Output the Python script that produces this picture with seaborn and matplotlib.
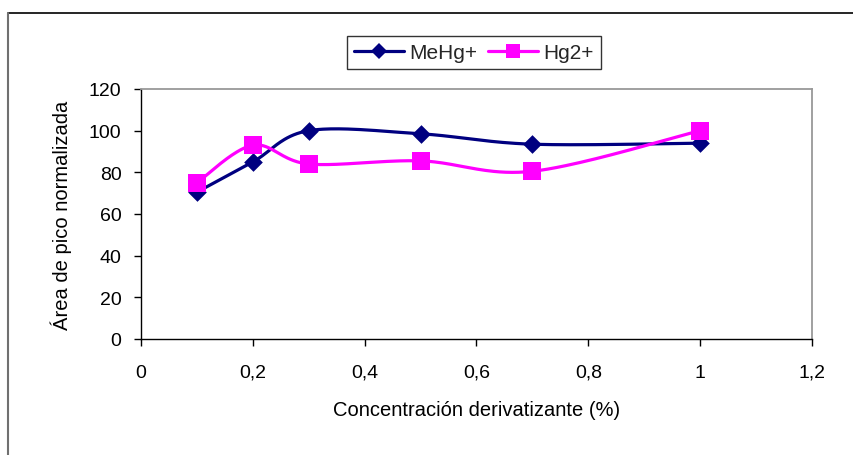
import numpy as np
import pandas as pd
import matplotlib
matplotlib.use("Agg")
import matplotlib.pyplot as plt
from matplotlib.lines import Line2D
import seaborn as sns

# Derivatizing agent concentration (%) and normalised peak areas
concentracion = [0.1, 0.2, 0.3, 0.5, 0.7, 1.0]
mehg = [70.5, 85, 100, 98.5, 93.5, 94]
hg2 = [75, 93, 84, 85.5, 80.5, 100]

series_names = ["MeHg+", "Hg2+"]
colors = {"MeHg+": "#000080", "Hg2+": "#FF00FF"}
markers = {"MeHg+": "D", "Hg2+": "s"}
msizes = {"MeHg+": 9.5, "Hg2+": 12.5}

x_ticks = [0, 0.2, 0.4, 0.6, 0.8, 1.0, 1.2]
x_ticklabels = ["0", "0,2", "0,4", "0,6", "0,8", "1", "1,2"]
y_ticks = [0, 20, 40, 60, 80, 100, 120]


def smooth_path(xs, ys, n=40):
    """Bezier smoothing through every point (spreadsheet-style smoothed line)."""
    p = np.column_stack([xs, ys]).astype(float)
    ext = np.vstack([p[0], p, p[-1]])
    out = []
    t = np.linspace(0, 1, n)[:, None]
    for i in range(len(p) - 1):
        p0, p1 = ext[i + 1], ext[i + 2]
        c1 = p0 + (ext[i + 2] - ext[i]) / 6.0
        c2 = p1 - (ext[i + 3] - ext[i + 1]) / 6.0
        seg = ((1 - t) ** 3) * p0 + 3 * ((1 - t) ** 2) * t * c1 + 3 * (1 - t) * t ** 2 * c2 + t ** 3 * p1
        out.append(seg if i == 0 else seg[1:])
    return np.vstack(out)


sns.set_theme(style="white")
plt.rcParams["font.family"] = ["Liberation Sans", "DejaVu Sans"]

fig = plt.figure(figsize=(8.54, 4.56), dpi=100)
ax = fig.add_axes([141 / 854, 1 - 340 / 456, (812 - 141) / 854, (340 - 90) / 456])

points = pd.DataFrame({
    "x": concentracion * 2,
    "y": mehg + hg2,
    "serie": ["MeHg+"] * len(mehg) + ["Hg2+"] * len(hg2),
})

for name in series_names:
    sub = points[points["serie"] == name]
    curve = smooth_path(sub["x"].values, sub["y"].values)
    cdf = pd.DataFrame({"x": curve[:, 0], "y": curve[:, 1]})
    sns.lineplot(data=cdf, x="x", y="y", sort=False, estimator=None,
                 color=colors[name], linewidth=2.3, ax=ax, zorder=2)
    sns.scatterplot(data=sub, x="x", y="y", marker=markers[name],
                    s=msizes[name] ** 2, color=colors[name], edgecolor=colors[name],
                    linewidth=0, ax=ax, zorder=3)

ax.set_xlim(0, 1.2)
ax.set_ylim(0, 120)
ax.set_xticks(x_ticks)
ax.set_xticklabels(x_ticklabels)
ax.set_yticks(y_ticks)
ax.tick_params(axis="both", direction="out", length=5, width=1, color="black",
               labelsize=14, labelcolor="black")
ax.tick_params(axis="x", pad=13)
ax.tick_params(axis="y", pad=9)
ax.tick_params(axis="both", which="both", bottom=True, left=True)

for side in ["left", "bottom"]:
    ax.spines[side].set_color("black")
    ax.spines[side].set_linewidth(1.0)
for side in ["top", "right"]:
    ax.spines[side].set_color("#999999")
    ax.spines[side].set_linewidth(1.3)

ax.set_xlabel("Concentración derivatizante (%)", fontsize=14.5, color="black", labelpad=14)
ax.set_ylabel("Área de pico normalizada", fontsize=14.5, color="black", labelpad=12)

handles = [Line2D([0], [0], color=colors[n], linewidth=2.3, marker=markers[n],
                  markersize=8 if n == "MeHg+" else 9.5, markeredgewidth=0)
           for n in series_names]
leg = fig.legend(handles, series_names, loc="center", ncol=2,
                 bbox_to_anchor=(474 / 854, 1 - 53.5 / 456), frameon=True,
                 fancybox=False, edgecolor="black", fontsize=15,
                 handlelength=2.4, columnspacing=0.5, handletextpad=0.25,
                 borderpad=0.35, borderaxespad=0)
leg.get_frame().set_linewidth(1.0)

# Chart-area border (top and left edges visible)
fig.add_artist(Line2D([8 / 854, 1.0], [1 - 14 / 456] * 2, color="black", linewidth=1.2))
fig.add_artist(Line2D([8 / 854] * 2, [1 - 14 / 456, 0.0], color="#707070", linewidth=1.5))

fig.savefig("out.png", dpi=100)
